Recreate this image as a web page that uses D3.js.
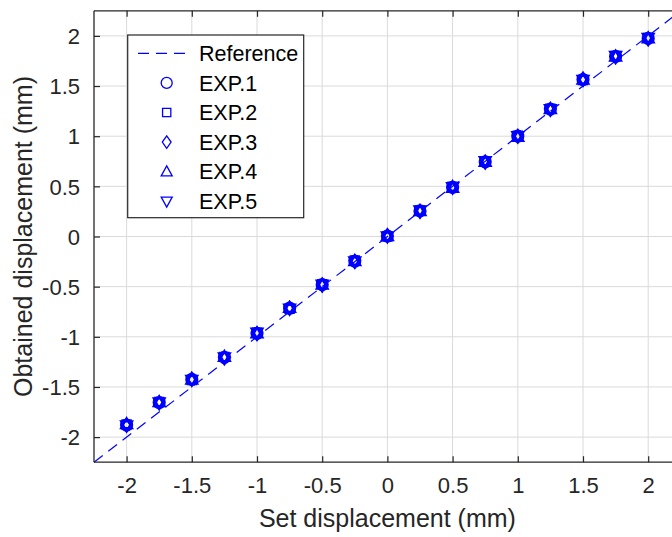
<!DOCTYPE html>
<html><head><meta charset="utf-8">
<script src="https://cdn.jsdelivr.net/npm/d3@7"></script>
<style>body{margin:0;background:#fff}svg{display:block}text{font-family:"Liberation Sans",Arial,sans-serif}</style>
</head><body><svg id="c" width="672" height="537"></svg>
<script>
const setDisp = [-2,-1.75,-1.5,-1.25,-1,-0.75,-0.5,-0.25,0,0.25,0.5,0.75,1,1.25,1.5,1.75,2];
const exp1 = [-1.88,-1.655,-1.425,-1.205,-0.965,-0.715,-0.48,-0.245,0.005,0.255,0.49,0.745,1.0,1.27,1.565,1.795,1.975];
const exp2 = [-1.875,-1.65,-1.43,-1.2,-0.96,-0.72,-0.475,-0.24,0.0,0.26,0.495,0.75,1.005,1.275,1.56,1.8,1.98];
const exp3 = [-1.88,-1.66,-1.42,-1.21,-0.97,-0.715,-0.485,-0.25,0.01,0.25,0.49,0.74,1.0,1.265,1.57,1.79,1.97];
const exp4 = [-1.87,-1.65,-1.425,-1.2,-0.965,-0.71,-0.48,-0.245,0.005,0.255,0.485,0.745,0.995,1.27,1.565,1.795,1.975];
const exp5 = [-1.885,-1.655,-1.43,-1.205,-0.96,-0.72,-0.48,-0.25,0.0,0.26,0.49,0.75,1.0,1.27,1.56,1.8,1.98];
const seriesNames = ["EXP.1","EXP.2","EXP.3","EXP.4","EXP.5"];
const seriesValues = [exp1,exp2,exp3,exp4,exp5];
const seriesMarkers = ["circle","square","diamond","up","down"];
const xTicks = [-2,-1.5,-1,-0.5,0,0.5,1,1.5,2];
const yTicks = [-2,-1.5,-1,-0.5,0,0.5,1,1.5,2];
const refLine = [-2.25,2.25];

const svg = d3.select("#c");
const L=94, T=10.8, W=586.8, H=451.4;
const x = d3.scaleLinear().domain([-2.25,2.25]).range([L,L+W]);
const y = d3.scaleLinear().domain([-2.25,2.25]).range([T+H,T]);
const axisCol="#262626", blue="#0000ff";

// grid
const g = svg.append("g");
g.selectAll(".gx").data(xTicks).join("line").attr("x1",d=>x(d)).attr("x2",d=>x(d)).attr("y1",T).attr("y2",T+H).attr("stroke","#dadada").attr("stroke-width",1);
g.selectAll(".gy").data(yTicks).join("line").attr("y1",d=>y(d)).attr("y2",d=>y(d)).attr("x1",L).attr("x2",L+W).attr("stroke","#dadada").attr("stroke-width",1);

// reference
svg.append("line").attr("x1",x(refLine[0])).attr("y1",y(refLine[0])).attr("x2",x(refLine[1])).attr("y2",y(refLine[1]))
  .attr("stroke",blue).attr("stroke-width",1.2).attr("stroke-dasharray","11,7");

function markerPath(type, s){
  const r=s/2;
  if(type==="circle"){const p=d3.path();p.arc(0,0,r,0,2*Math.PI);p.closePath();return p.toString();}
  if(type==="square"){const h=r*0.75;return `M${-h},${-h}H${h}V${h}H${-h}Z`;}
  if(type==="diamond"){return `M0,${-r*1.15}L${r*0.8},0L0,${r*1.15}L${-r*0.8},0Z`;}
  if(type==="up"){return `M0,${-r*1.05}L${r*1.0},${r*0.75}L${-r*1.0},${r*0.75}Z`;}
  if(type==="down"){return `M0,${r*1.05}L${r*1.0},${-r*0.75}L${-r*1.0},${-r*0.75}Z`;}
}

// points
seriesValues.forEach((vals,i)=>{
  svg.append("g").selectAll("path").data(vals).join("path")
    .attr("transform",(d,j)=>`translate(${x(setDisp[j])},${y(d)})`)
    .attr("d",markerPath(seriesMarkers[i],11))
    .attr("fill","none").attr("stroke",blue).attr("stroke-width",2.2);
});

// axes
const xa = svg.append("g").attr("transform",`translate(0,${T+H})`)
  .call(d3.axisBottom(x).tickValues(xTicks).tickSize(-6).tickPadding(14).tickFormat(d3.format("")));
const xt = svg.append("g").attr("transform",`translate(0,${T})`)
  .call(d3.axisTop(x).tickValues(xTicks).tickSize(-6).tickFormat(""));
const ya = svg.append("g").attr("transform",`translate(${L},0)`)
  .call(d3.axisLeft(y).tickValues(yTicks).tickSize(-6).tickPadding(14).tickFormat(d3.format("")));
[xa,xt,ya].forEach(a=>{
  a.select(".domain").attr("stroke",axisCol).attr("stroke-width",1.3);
  a.selectAll(".tick line").attr("stroke",axisCol).attr("stroke-width",1.2);
  a.selectAll("text").attr("fill",axisCol).style("font-size","22px").style("font-family",'"Liberation Sans",Arial,sans-serif');
});
xa.select(".domain").attr("d",`M${L},0H${L+W}`);
xt.select(".domain").attr("d",`M${L},0H${L+W}`);
ya.select(".domain").attr("d",`M0,${T}V${T+H}`);
xa.selectAll("text").text(d=>String(d).replace("\u2212","-")).attr("dy","0.78em");
ya.selectAll("text").text(d=>String(d)).attr("dy","0.35em");

// labels
svg.append("text").attr("x",x(0)).attr("y",527).attr("text-anchor","middle").attr("fill",axisCol).style("font-size","25px").text("Set displacement (mm)");
svg.append("text").attr("transform",`translate(32,${(T+T+H)/2}) rotate(-90)`).attr("text-anchor","middle").attr("fill",axisCol).style("font-size","25px").text("Obtained displacement (mm)");

// legend
const lg = svg.append("g");
lg.append("rect").attr("x",127.7).attr("y",35).attr("width",176).attr("height",182.7).attr("fill","#fff").attr("stroke","#262626").attr("stroke-width",1.2);
const rowY = d3.range(6).map(i=>53.3+i*29.6);
lg.append("line").attr("x1",138).attr("x2",192).attr("y1",rowY[0]).attr("y2",rowY[0]).attr("stroke",blue).attr("stroke-width",1.2).attr("stroke-dasharray","11,7");
lg.append("text").attr("x",199).attr("y",rowY[0]).attr("dy","0.36em").style("font-size","21.5px").attr("fill","#000").text("Reference");
seriesNames.forEach((n,i)=>{
  lg.append("path").attr("transform",`translate(166.7,${rowY[i+1]})`).attr("d",markerPath(seriesMarkers[i],11)).attr("fill","none").attr("stroke",blue).attr("stroke-width",1.3);
  lg.append("text").attr("x",199).attr("y",rowY[i+1]).attr("dy","0.36em").style("font-size","21.5px").attr("fill","#000").text(n);
});
</script></body></html>
